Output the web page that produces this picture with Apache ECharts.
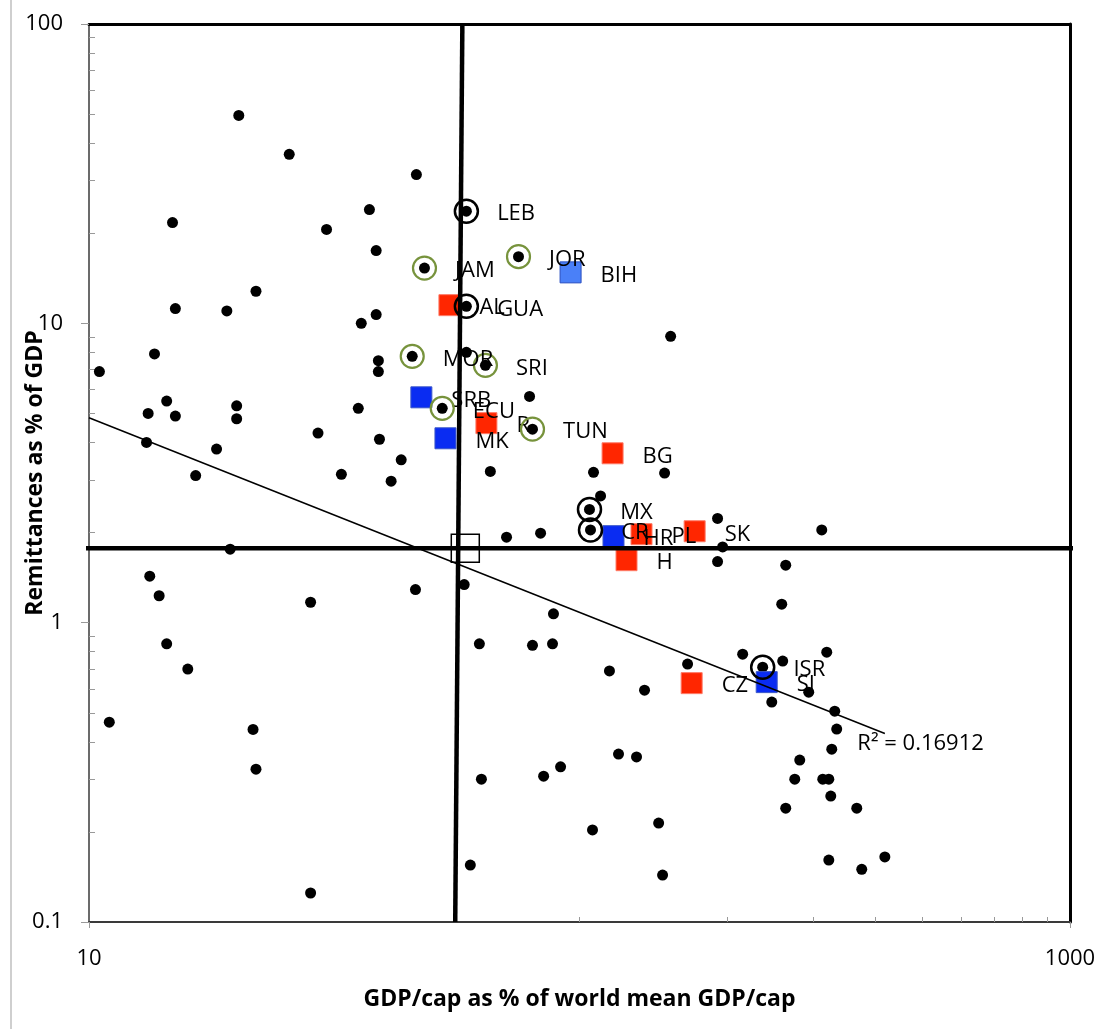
<!DOCTYPE html>
<html>
<head>
<meta charset="utf-8">
<title>Remittances vs GDP per capita</title>
<script src="https://cdn.jsdelivr.net/npm/echarts@6/dist/echarts.min.js"></script>
<style>
  html, body { margin: 0; padding: 0; background: #fff; }
  #chart { width: 1104px; height: 1029px; }
</style>
</head>
<body>
<div id="chart"></div>
<script>
// GDP per capita (% of world mean) vs remittances (% of GDP), one point per country
const otherCountries = [
  [10.5, 6.9], [11.0, 0.465], [13.1, 4.0], [13.2, 5.0], [13.3, 1.43], [13.6, 7.9],
  [13.9, 1.23], [14.4, 5.5], [14.4, 0.85], [14.8, 21.7], [15.0, 11.2], [15.0, 4.9],
  [15.9, 0.70], [16.5, 3.1], [18.2, 3.8], [19.1, 11.0], [19.4, 1.76], [20.0, 5.3],
  [20.0, 4.8], [20.2, 49.5], [21.6, 0.44], [21.9, 12.8], [21.9, 0.324], [25.6, 36.7],
  [28.3, 1.17], [28.3, 0.125], [29.3, 4.3], [30.5, 20.6], [32.7, 3.13], [35.4, 5.2],
  [35.9, 10.0], [37.3, 24.0], [38.5, 17.5], [38.5, 10.7], [38.9, 7.5], [38.9, 6.9],
  [39.1, 4.1], [41.3, 2.97], [43.3, 3.5], [46.3, 1.29], [46.5, 31.4], [58.2, 1.34],
  [58.8, 8.0], [59.9, 0.155], [62.5, 0.85], [63.1, 0.30], [65.8, 3.2], [71.0, 1.93],
  [79.1, 5.7], [80.2, 0.84], [83.3, 1.99], [84.5, 0.307], [88.1, 0.85], [88.5, 1.07],
  [91.5, 0.33], [106.3, 0.203], [106.8, 3.18], [110.4, 2.65], [115.1, 0.69], [120.1, 0.364],
  [130.7, 0.356], [135.7, 0.595], [145.0, 0.214], [147.7, 0.1435], [149.1, 3.16], [153.4, 9.05],
  [166.1, 0.727], [191.2, 2.23], [191.2, 1.60], [195.8, 1.79], [215.1, 0.785], [246.6, 0.543],
  [258.4, 1.153], [259.6, 0.744], [263.3, 1.556], [263.3, 0.240], [274.7, 0.300], [281.2, 0.3475],
  [293.3, 0.586], [311.8, 2.04], [313.3, 0.300], [319.2, 0.797], [322.3, 0.300], [322.3, 0.161],
  [325.3, 0.2635], [326.8, 0.378], [331.4, 0.506], [334.5, 0.441], [367.5, 0.240], [376.2, 0.150],
  [419.3, 0.165]
];

// Highlighted countries: [label, GDP/cap %, remittances %]
const ringedBlack = [
  ['LEB', 58.8, 23.7], ['GUA', 58.8, 11.4], ['MX', 104.8, 2.39], ['CR', 105.3, 2.04], ['ISR', 236.3, 0.71]
];
const ringedOlive = [
  ['JAM', 48.3, 15.3], ['JOR', 75.1, 16.7], ['MOR', 45.6, 7.76], ['SRI', 64.3, 7.24],
  ['ECU', 52.5, 5.2], ['TUN', 80.2, 4.43]
];
const squaresRed = [
  ['AL', 54.3, 11.5], ['R', 64.6, 4.64], ['BG', 116.8, 3.68], ['PL', 133.8, 1.975],
  ['SK', 171.7, 2.02], ['H', 124.7, 1.617], ['CZ', 169.3, 0.628]
];
const squaresBlue = [
  ['SRB', 47.6, 5.66], ['MK', 53.3, 4.13], ['HR', 117.3, 1.945], ['SI', 240.8, 0.633]
];
const squaresLightBlue = [
  ['BIH', 95.9, 14.8]
];

// Reference lines and the world-mean marker
const worldMean = [58.5, 1.773];
const horizontalGuide = [[9.63, 1.773], [1094, 1.773]];
const verticalGuide = [[57.7, 100], [55.8, 0.1]];

// Power trendline y = a * x^b over the data range
const trendCoef = 21.6;
const trendExp = -0.65;
const trendRange = [10, 419.3];
const trendLabel = 'R\u00B2 = 0.16912';

// Axis ticks
const xLabelTicks = [10, 1000];
const xMinorTicks = [100, 200, 300, 400, 500, 600, 700, 800, 900];
const yMinorTicks = [0.2, 0.3, 0.4, 0.5, 0.6, 0.7, 0.8, 0.9, 2, 3, 4, 5, 6, 7, 8, 9, 20, 30, 40, 50, 60, 70, 80, 90];

const FONT = '"Open Sans", "Noto Sans", sans-serif';

const toItems = rows => rows.map(r => ({ name: r[0], value: [r[1], r[2]] }));
const innerDots = ringedBlack.concat(ringedOlive).map(r => [r[1], r[2]]);
const trendPoints = trendRange.map(x => [x, trendCoef * Math.pow(x, trendExp)]);
const plainNumber = v => String(Math.round(v * 1000) / 1000);

const countryLabel = (distance) => ({
  show: true,
  position: 'right',
  distance: distance,
  offset: [0, 3],
  formatter: p => p.name,
  fontFamily: FONT,
  fontSize: 22,
  color: '#000',
  opacity: 1
});

const chart = echarts.init(document.getElementById('chart'), null, { renderer: 'canvas' });

const logX = { type: 'log', logBase: 10, min: 10, max: 1000, splitLine: { show: false } };
const logY = { type: 'log', logBase: 10, min: 0.1, max: 100, splitLine: { show: false } };

chart.setOption({
  animation: false,
  backgroundColor: '#fff',
  textStyle: { fontFamily: FONT },
  grid: { left: 89, top: 24, right: 34, bottom: 107, containLabel: false, outerBoundsMode: 'none' },
  graphic: [{
    type: 'line',
    shape: { x1: 11, y1: 0, x2: 11, y2: 1029 },
    style: { stroke: '#cfcfcf', lineWidth: 2 }
  }],
  xAxis: [
    Object.assign({}, logX, {
      position: 'bottom',
      axisLine: { show: true, onZero: false, lineStyle: { color: '#3a3a3a', width: 2 } },
      axisTick: { show: true, customValues: xLabelTicks, length: 6, lineStyle: { color: '#999' } },
      axisLabel: { customValues: xLabelTicks, formatter: plainNumber, fontSize: 22, color: '#000', margin: 26, fontFamily: FONT },
      name: 'GDP/cap as % of world mean GDP/cap',
      nameLocation: 'middle',
      nameGap: 66,
      nameMoveOverlap: false,
      nameTextStyle: { fontSize: 23, fontWeight: 'bold', color: '#000', fontFamily: FONT }
    }),
    Object.assign({}, logX, {
      position: 'bottom',
      axisLine: { show: false },
      axisTick: { show: true, inside: true, customValues: xMinorTicks, length: 5, lineStyle: { color: '#999' } },
      axisLabel: { show: false }
    }),
    Object.assign({}, logX, {
      position: 'top',
      axisLine: { show: true, onZero: false, lineStyle: { color: '#000', width: 3 } },
      axisTick: { show: false },
      axisLabel: { show: false }
    })
  ],
  yAxis: [
    Object.assign({}, logY, {
      position: 'left',
      axisLine: { show: true, onZero: false, lineStyle: { color: '#6b6b6b', width: 2 } },
      axisTick: { show: true, length: 8, lineStyle: { color: '#999' } },
      axisLabel: { formatter: plainNumber, fontSize: 22, color: '#000', margin: 26, fontFamily: FONT },
      name: 'Remittances as % of GDP',
      nameLocation: 'middle',
      nameGap: 42,
      nameRotate: 90,
      nameMoveOverlap: false,
      nameTextStyle: { fontSize: 23, fontWeight: 'bold', color: '#000', fontFamily: FONT }
    }),
    Object.assign({}, logY, {
      position: 'left',
      axisLine: { show: false },
      axisTick: { show: true, inside: true, customValues: yMinorTicks, length: 6, lineStyle: { color: '#999' } },
      axisLabel: { show: false }
    }),
    Object.assign({}, logY, {
      position: 'right',
      axisLine: { show: true, onZero: false, lineStyle: { color: '#000', width: 3 } },
      axisTick: { show: false },
      axisLabel: { show: false }
    })
  ],
  series: [
    {
      name: 'countries',
      type: 'scatter',
      data: otherCountries.concat(innerDots),
      symbol: 'circle',
      symbolSize: 11,
      itemStyle: { color: '#000', opacity: 1 },
      silent: true,
      z: 2
    },
    {
      name: 'squaresRed',
      type: 'scatter',
      data: toItems(squaresRed),
      symbol: 'rect',
      symbolSize: 21,
      itemStyle: { color: '#FF2600', borderColor: '#ff7a66', borderWidth: 1, opacity: 1 },
      label: countryLabel(19),
      silent: true,
      z: 3
    },
    {
      name: 'squaresBlue',
      type: 'scatter',
      data: toItems(squaresBlue),
      symbol: 'rect',
      symbolSize: 21,
      itemStyle: { color: '#0A2CF2', borderColor: '#3b57c9', borderWidth: 1, opacity: 1 },
      label: countryLabel(19),
      silent: true,
      z: 3
    },
    {
      name: 'squaresLightBlue',
      type: 'scatter',
      data: toItems(squaresLightBlue),
      symbol: 'rect',
      symbolSize: 21,
      itemStyle: { color: '#4A80F8', borderColor: '#2a4fc0', borderWidth: 1, opacity: 1 },
      label: countryLabel(19),
      silent: true,
      z: 3
    },
    {
      name: 'ringedBlack',
      type: 'scatter',
      data: toItems(ringedBlack),
      symbol: 'circle',
      symbolSize: 23,
      itemStyle: { color: 'rgba(0,0,0,0)', borderColor: '#000', borderWidth: 2.5, opacity: 1 },
      label: countryLabel(18),
      silent: true,
      z: 4
    },
    {
      name: 'ringedOlive',
      type: 'scatter',
      data: toItems(ringedOlive),
      symbol: 'circle',
      symbolSize: 23,
      itemStyle: { color: 'rgba(0,0,0,0)', borderColor: '#77933C', borderWidth: 2.2, opacity: 1 },
      label: countryLabel(18),
      silent: true,
      z: 4
    },
    {
      name: 'trend',
      type: 'line',
      data: trendPoints,
      symbol: 'none',
      lineStyle: { color: '#000', width: 1.5 },
      silent: true,
      z: 5
    },
    {
      name: 'trendLabel',
      type: 'scatter',
      data: trendPoints.slice(-1),
      symbolSize: 1,
      itemStyle: { color: 'rgba(0,0,0,0)', opacity: 1 },
      label: {
        show: true,
        position: [-27, 0],
        formatter: trendLabel,
        fontSize: 22,
        color: '#000',
        fontFamily: FONT
      },
      silent: true,
      z: 5
    },
    {
      name: 'horizontalGuide',
      type: 'line',
      data: horizontalGuide,
      symbol: 'none',
      clip: false,
      lineStyle: { color: '#000', width: 4.5 },
      silent: true,
      z: 6
    },
    {
      name: 'verticalGuide',
      type: 'line',
      data: verticalGuide,
      symbol: 'none',
      clip: false,
      lineStyle: { color: '#000', width: 4.5 },
      silent: true,
      z: 6
    },
    {
      name: 'worldMean',
      type: 'scatter',
      data: [worldMean],
      symbol: 'rect',
      symbolSize: 28,
      itemStyle: { color: 'rgba(0,0,0,0)', borderColor: '#000', borderWidth: 1.5, opacity: 1 },
      silent: true,
      z: 7
    }
  ]
});
</script>
</body>
</html>
